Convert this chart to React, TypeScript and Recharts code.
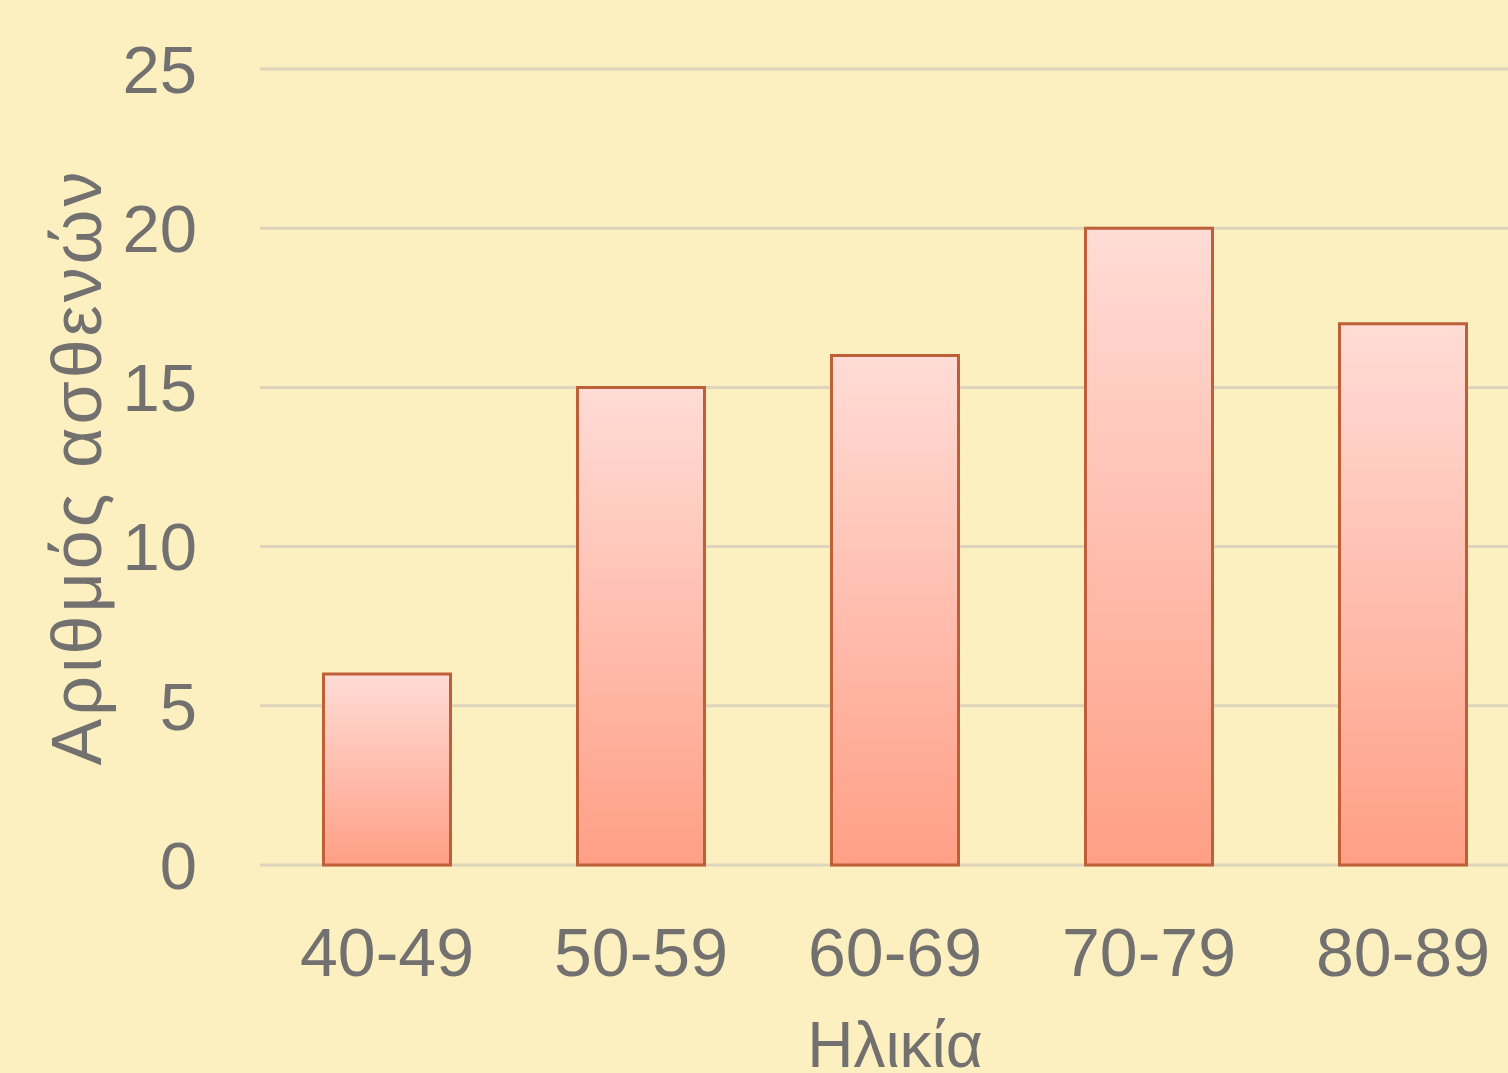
import { BarChart, Bar, XAxis, YAxis, CartesianGrid } from 'recharts'

const ageGroups = ['40-49', '50-59', '60-69', '70-79', '80-89']
const patientCounts = [6, 15, 16, 20, 17]
const countTicks = [0, 5, 10, 15, 20, 25]

const data = ageGroups.map((age, i) => ({ age, patients: patientCounts[i] }))

const textColor = '#737170'
const font = '"Liberation Sans", Arial, sans-serif'

export default function App() {
	return (
		<div
			style={{
				position: 'absolute',
				top: 0,
				left: 0,
				width: 1508,
				height: 1073,
				overflow: 'hidden',
				background: '#fdf0c0',
				fontFamily: font,
			}}
		>
			<BarChart
				width={1540}
				height={1073}
				data={data}
				margin={{ top: 69, right: 10, bottom: 0, left: 0 }}
				barCategoryGap="25%"
			>
				<defs>
					<linearGradient id="barFill" x1="0" y1="0" x2="0" y2="1">
						<stop offset="0%" stopColor="#ffdcd6" />
						<stop offset="100%" stopColor="#ff9f86" />
					</linearGradient>
				</defs>
				<CartesianGrid vertical={false} stroke="#ddd4bb" strokeWidth={3} />
				<XAxis
					dataKey="age"
					height={208}
					axisLine={false}
					tickLine={false}
					tickSize={0}
					tickMargin={63}
					tick={{ fill: textColor, fontSize: 68, fontFamily: font }}
					label={{
						value: 'Ηλικία',
						position: 'insideBottom',
						offset: 6,
						fill: textColor,
						fontSize: 64,
						fontFamily: font,
					}}
				/>
				<YAxis
					width={260}
					domain={[0, 25]}
					ticks={countTicks}
					axisLine={false}
					tickLine={false}
					tickSize={0}
					tickMargin={63}
					tick={{ fill: textColor, fontSize: 67, fontFamily: font }}
					label={{
						value: 'Αριθμός ασθενών',
						angle: -90,
						position: 'insideLeft',
						offset: 76,
						fill: textColor,
						fontSize: 70,
						fontFamily: font,
						style: { textAnchor: 'middle', letterSpacing: 3 },
					}}
				/>
				<Bar
					dataKey="patients"
					fill="url(#barFill)"
					stroke="#bf5f38"
					strokeWidth={3}
					isAnimationActive={false}
				/>
			</BarChart>
		</div>
	)
}
